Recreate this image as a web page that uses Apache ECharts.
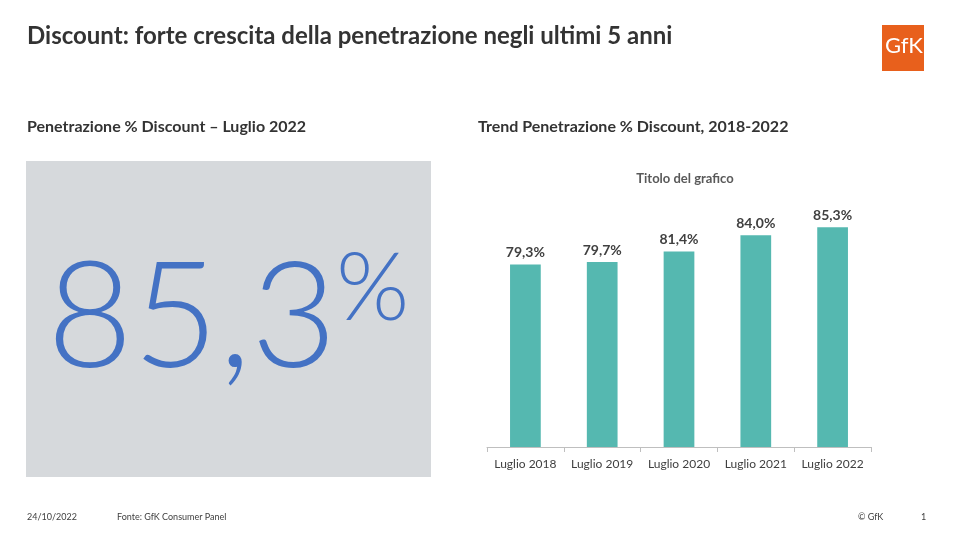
<!DOCTYPE html>
<html lang="it">
<head>
    <meta charset="UTF-8">
    <title>Discount</title>
    <style>
      html, body { margin: 0; padding: 0; background: #ffffff; }
    </style>
</head>
<body>
    <div id="main" style="width: 956px; height: 540px;"></div>
    <script src="https://cdn.jsdelivr.net/npm/echarts@6/dist/echarts.min.js"></script>
    <script>
      // dati
      const categories = ['Luglio 2018', 'Luglio 2019', 'Luglio 2020', 'Luglio 2021', 'Luglio 2022'];
      const penetration = [79.3, 79.7, 81.4, 84.0, 85.3];
      const headline = '85,3';

      const fmt = function (v) {
        return v.toFixed(1).replace('.', ',') + '%';
      };

      var chartDom = document.getElementById('main');
      var myChart = echarts.init(chartDom);
      var option;

      const font = 'Lato, "Noto Sans", sans-serif';

      option = {
        backgroundColor: '#ffffff',
        animation: false,
        title: {
          text: 'Titolo del grafico',
          left: 680,
          top: 167,
          textAlign: 'center',
          textStyle: { fontFamily: font, fontSize: 13, fontWeight: 'bold', color: '#595959' }
        },
        grid: { left: 487, right: 85, top: 198, bottom: 93 },
        xAxis: {
          type: 'category',
          data: categories,
          axisLine: { lineStyle: { color: '#BFBFBF', width: 1 } },
          axisTick: { show: true, length: 5, lineStyle: { color: '#BFBFBF' } },
          axisLabel: { interval: 0, fontFamily: font, fontSize: 12, color: '#404040', margin: 11 }
        },
        yAxis: {
          type: 'value',
          min: 50,
          max: 90,
          show: false,
          splitLine: { show: false }
        },
        series: [
          {
            type: 'bar',
            data: penetration,
            barWidth: '40%',
            itemStyle: { color: '#55B8B0' },
            label: {
              show: true,
              position: 'top',
              distance: 5,
              fontFamily: font,
              fontSize: 14,
              fontWeight: 'bold',
              color: '#404040',
              formatter: function (p) { return fmt(p.value); }
            }
          }
        ],
        graphic: [
          {
            type: 'text', left: 27, top: 24,
            style: {
              text: 'Discount: forte crescita della penetrazione negli ultimi 5 anni',
              font: 'bold 24px ' + font, fill: '#333333'
            }
          },
          {
            type: 'text', left: 27, top: 119,
            style: { text: 'Penetrazione % Discount – Luglio 2022', font: 'bold 16px ' + font, fill: '#333333' }
          },
          {
            type: 'text', left: 478, top: 119,
            style: { text: 'Trend Penetrazione % Discount, 2018-2022', font: 'bold 16px ' + font, fill: '#333333' }
          },
          {
            type: 'rect',
            shape: { x: 26, y: 161, width: 405, height: 316 },
            style: { fill: '#D6D9DC' }
          },
          {
            type: 'text', left: 47, top: 245,
            style: { text: headline, font: '300 148px ' + font, fill: '#4472C4' }
          },
          {
            type: 'text', left: 336, top: 243,
            style: { text: '%', font: '300 94px ' + font, fill: '#4472C4' }
          },
          {
            type: 'rect',
            shape: { x: 882, y: 25, width: 42, height: 46 },
            style: { fill: '#E8601C' }
          },
          {
            type: 'text', left: 885, top: 35,
            style: { text: 'GfK', font: '22px ' + font, fill: '#ffffff' }
          },
          {
            type: 'text', left: 27, top: 513,
            style: { text: '24/10/2022', font: '9px ' + font, fill: '#404040' }
          },
          {
            type: 'text', left: 117, top: 513,
            style: { text: 'Fonte: GfK Consumer Panel', font: '9px ' + font, fill: '#404040' }
          },
          {
            type: 'text', left: 858, top: 513,
            style: { text: '© GfK', font: '9px ' + font, fill: '#404040' }
          },
          {
            type: 'text', left: 921, top: 513,
            style: { text: '1', font: '9px ' + font, fill: '#404040' }
          }
        ]
      };

      option && myChart.setOption(option);
    </script>
</body>
</html>
